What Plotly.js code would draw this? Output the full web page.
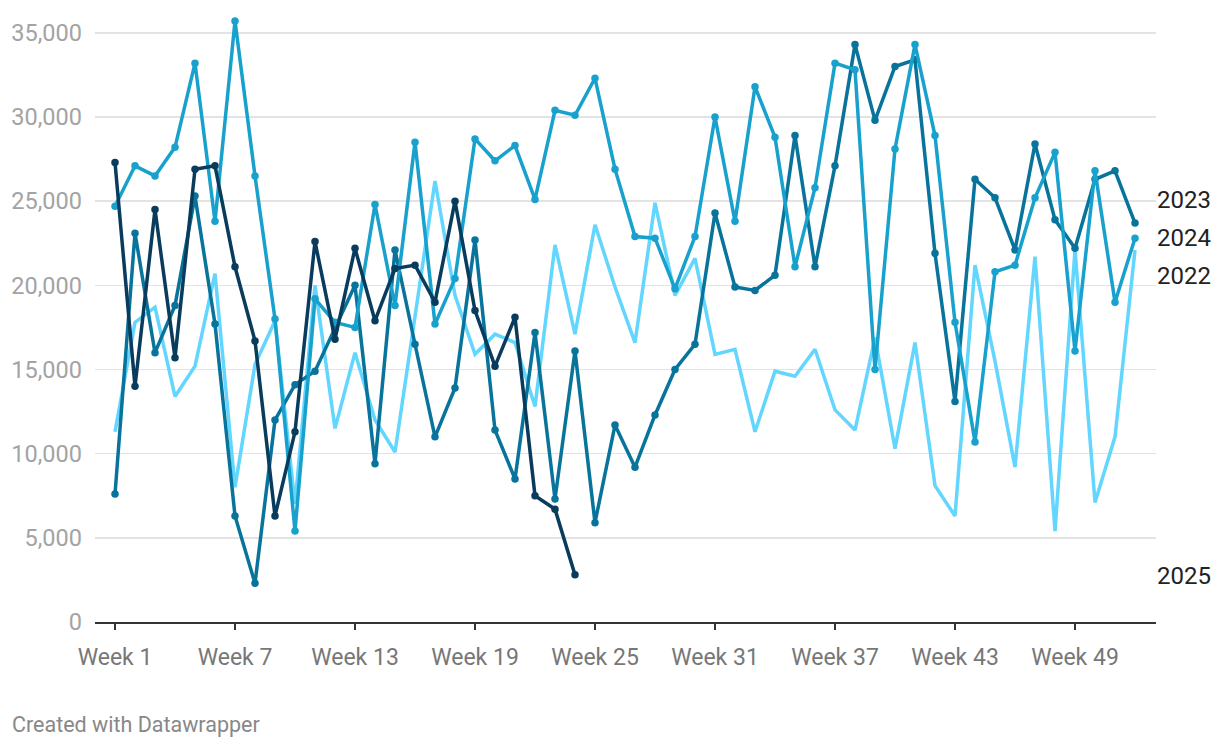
<!DOCTYPE html>
<html>
<head>
<meta charset="utf-8">
<script src="https://cdn.plot.ly/plotly-3.0.1.min.js"></script>
<style>
  html, body { margin: 0; padding: 0; background: #fff; }
  #chart { width: 1220px; height: 748px; }
</style>
</head>
<body>
<div id="chart"></div>
<script>
const weeks = Array.from({length: 52}, (_, i) => i + 1);

const tickWeeks = [1, 7, 13, 19, 25, 31, 37, 43, 49];
const tickLabels = ["Week 1", "Week 7", "Week 13", "Week 19", "Week 25", "Week 31", "Week 37", "Week 43", "Week 49"];

const yTickVals = [0, 5000, 10000, 15000, 20000, 25000, 30000, 35000];
const yTickLabels = ["0", "5,000", "10,000", "15,000", "20,000", "25,000", "30,000", "35,000"];

const values2022 = [11300, 17800, 18700, 13400, 15200, 20700, 8000, 15300, 17900, 7000,
  20000, 11500, 16000, 12000, 10100, 18000, 26200, 19400, 15900, 17100,
  16600, 12800, 22400, 17100, 23600, 19900, 16600, 24900, 19400, 21600,
  15900, 16200, 11300, 14900, 14600, 16200, 12600, 11400, 16900, 10300,
  16600, 8100, 6300, 21200, 15500, 9200, 21700, 5400, 22100, 7100,
  11000, 22100];

const values2023 = [7600, 23100, 16000, 18800, 25300, 17700, 6300, 2300, 12000, 14100,
  14900, 17400, 20000, 9400, 22100, 16500, 11000, 13900, 22700, 11400,
  8500, 17200, 7300, 16100, 5900, 11700, 9200, 12300, 15000, 16500,
  24300, 19900, 19700, 20600, 28900, 21100, 27100, 34300, 29800, 33000,
  33400, 21900, 13100, 26300, 25200, 22100, 28400, 23900, 22200, 26300,
  26800, 23700];

const values2024 = [24700, 27100, 26500, 28200, 33200, 23800, 35700, 26500, 18000, 5400,
  19200, 17800, 17500, 24800, 18800, 28500, 17700, 20400, 28700, 27400,
  28300, 25100, 30400, 30100, 32300, 26900, 22900, 22800, 19800, 22900,
  30000, 23800, 31800, 28800, 21100, 25800, 33200, 32800, 15000, 28100,
  34300, 28900, 17800, 10700, 20800, 21200, 25200, 27900, 16100, 26800,
  19000, 22800];

const values2025 = [27300, 14000, 24500, 15700, 26900, 27100, 21100, 16700, 6300, 11300,
  22600, 16800, 22200, 17900, 21000, 21200, 19000, 25000, 18500, 15200,
  18100, 7500, 6700, 2800];

const seriesNames = ["2022", "2023", "2024", "2025"];
const seriesColors = ["#62d6fe", "#08739b", "#18a1cd", "#093b5c"];
const labelY = [20560, 25075, 22817, 2733];

const allValues = [values2022, values2023, values2024, values2025];

const traces = allValues.map((vals, i) => ({
  x: weeks.slice(0, vals.length),
  y: vals,
  type: "scatter",
  mode: i === 0 ? "lines" : "lines+markers",
  name: seriesNames[i],
  line: {color: seriesColors[i], width: 3.5},
  marker: {color: seriesColors[i], size: 7.5},
  hoverinfo: "x+y"
}));

const annotations = seriesNames.map((n, i) => ({
  xref: "paper", yref: "y",
  x: 1, y: labelY[i],
  xanchor: "left", yanchor: "middle",
  xshift: -1,
  text: n, showarrow: false,
  font: {family: "Roboto", size: 24, color: "#222"}
}));
annotations.push({
  xref: "paper", yref: "paper",
  x: -85/1061, y: -102/606,
  xanchor: "left", yanchor: "middle",
  text: "Created with Datawrapper", showarrow: false,
  font: {family: "Roboto", size: 21.5, color: "#888"}
});

const layout = {
  width: 1220, height: 748,
  margin: {l: 95, r: 64, t: 16, b: 126},
  paper_bgcolor: "#fff", plot_bgcolor: "#fff",
  showlegend: false,
  font: {family: "Roboto", size: 20, color: "#999"},
  xaxis: {
    range: [0, 53.05],
    tickvals: tickWeeks, ticktext: tickLabels,
    showgrid: false, zeroline: false,
    showline: true, linecolor: "#333", linewidth: 1.5,
    ticks: "outside", ticklen: 6, tickwidth: 1.5, tickcolor: "#333",
    ticklabelstandoff: 8,
    tickfont: {family: "Roboto", size: 23, color: "#777"}
  },
  yaxis: {
    range: [0, 36000],
    tickvals: yTickVals, ticktext: yTickLabels,
    showgrid: true, gridcolor: "#e3e3e3", gridwidth: 1.5,
    zeroline: false, showline: false, ticks: "",
    ticklabelstandoff: 12,
    tickfont: {family: "Roboto", size: 23.5, color: "#a3a3a3"}
  },
  annotations: annotations
};

Plotly.newPlot("chart", traces, layout, {displayModeBar: false, staticPlot: true});
</script>
</body>
</html>
